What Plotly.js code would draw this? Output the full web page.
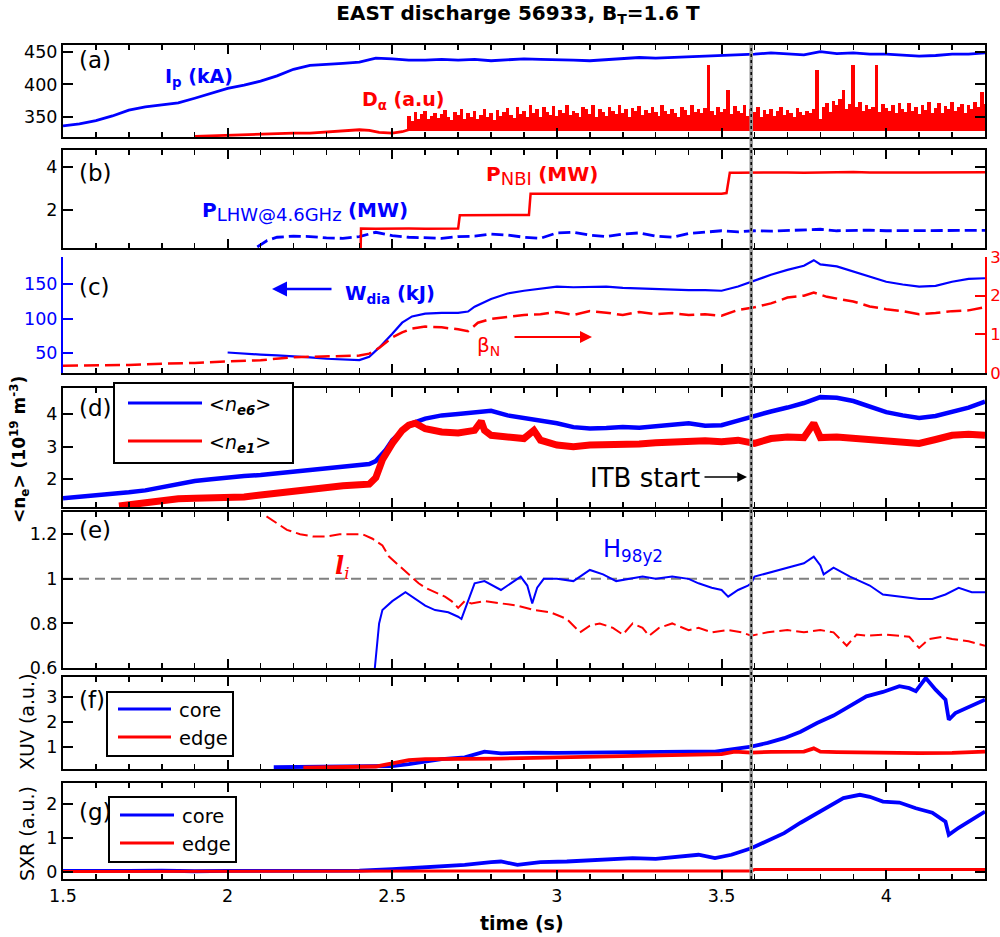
<!DOCTYPE html>
<html><head><meta charset="utf-8">
<script src="https://cdn.plot.ly/plotly-3.0.1.min.js"></script>
<style>html,body{margin:0;padding:0;background:#fff}#chart{width:1000px;height:937px}</style>
</head><body><div id="chart"></div>
<script>
// ---------------- DATA ----------------
// (a) plasma current Ip (kA)
const IP_T = [1.50,1.55,1.60,1.65,1.70,1.75,1.80,1.85,1.90,1.95,2.00,2.05,2.10,2.15,2.20,2.25,2.30,2.35,2.40,2.45,2.50,2.55,2.60,2.65,2.70,2.75,2.80,2.85,2.90,2.95,3.00,3.05,3.10,3.15,3.20,3.25,3.30,3.35,3.40,3.45,3.50,3.55,3.60,3.65,3.70,3.75,3.80,3.85,3.90,3.95,4.00,4.05,4.10,4.15,4.20,4.25,4.30];
const IP = [337,340,345,352,361,366,369,372,379,387,394,399,405,413,423,429,430,432,434,440,439,437,437,438,437,438,436,437,439,438,438,437,436,438,440,441,440,441,442,442,443,445,446,448,446,445,450,447,448,446,446,444,443,444,446,446,448];
// (a) D-alpha, quiet phase
const DA_LINE_T = [1.90,1.95,2.00,2.05,2.10,2.15,2.20,2.25,2.30,2.35,2.40,2.43,2.46,2.50,2.53,2.55];
const DA_LINE = [321,322,322,323,324,325,326,326,328,329,331,330,327,326,328,331];
// (a) D-alpha, ELM-like bursts: peaks every 0.01 s from 2.55 s
const DA_T0 = 2.55, DA_DT = 0.01, DA_BASE = 329;
const DA_TOP = [
 352,345,358,348,355,360,347,352,357,349,
 355,361,350,346,358,353,362,348,356,351,
 359,347,354,363,350,357,346,361,352,358,
 364,353,349,366,355,360,351,368,357,362,
 350,365,358,354,367,352,361,356,369,353,
 360,357,350,366,362,355,368,351,363,358,
 352,366,360,355,369,357,362,350,364,359,
 367,353,361,356,365,358,352,368,360,355,
 363,357,350,366,361,354,369,358,362,356,
 364,429,360,354,366,358,362,391,355,367,
 360,356,368,352,362,358,365,350,361,355,
 363,352,359,366,354,361,357,350,364,358,
 353,360,356,362,422,348,366,372,358,375,
 368,378,391,363,370,429,366,374,360,368,
 362,365,429,358,370,364,360,368,356,371,
 363,358,372,360,366,355,369,361,374,357,
 364,371,356,367,362,373,359,365,370,357,
 368,362,374,366,389,370];
// (b) NBI power (MW)
const NBI_T = [2.404,2.405,2.45,2.5,2.55,2.6,2.65,2.70,2.705,2.71,2.75,2.8,2.85,2.9,2.915,2.92,2.95,3.0,3.05,3.1,3.15,3.2,3.25,3.3,3.35,3.4,3.45,3.5,3.515,3.525,3.55,3.6,3.65,3.7,3.75,3.8,3.85,3.9,3.95,4.0,4.05,4.1,4.15,4.2,4.25,4.3];
const NBI = [0.2,1.15,1.14,1.16,1.15,1.14,1.16,1.15,1.77,1.77,1.78,1.76,1.78,1.77,1.78,2.77,2.77,2.78,2.76,2.78,2.79,2.77,2.78,2.76,2.78,2.79,2.78,2.77,2.8,3.74,3.74,3.75,3.74,3.76,3.74,3.75,3.76,3.78,3.75,3.77,3.76,3.76,3.77,3.78,3.77,3.77];
// (b) LHW power (MW)
const LHW_T = [2.09,2.12,2.15,2.2,2.25,2.3,2.35,2.4,2.45,2.5,2.55,2.6,2.65,2.7,2.75,2.8,2.85,2.9,2.95,3.0,3.05,3.1,3.15,3.2,3.25,3.3,3.35,3.4,3.45,3.5,3.55,3.6,3.65,3.7,3.75,3.8,3.85,3.9,3.95,4.0,4.1,4.2,4.3];
const LHW = [0.3,0.6,0.75,0.8,0.78,0.72,0.7,0.78,0.98,0.82,0.75,0.72,0.7,0.78,0.8,0.9,0.85,0.75,0.7,0.95,0.98,0.85,0.78,0.9,0.95,0.8,0.75,0.92,1.0,1.05,1.0,1.05,1.03,1.06,1.08,1.12,1.05,1.06,1.08,1.05,1.06,1.07,1.07];
// (c) stored energy W_dia (kJ)
const W_T = [2.0,2.05,2.1,2.15,2.2,2.25,2.3,2.35,2.4,2.43,2.46,2.5,2.53,2.56,2.6,2.65,2.7,2.73,2.75,2.8,2.85,2.9,2.95,3.0,3.05,3.1,3.15,3.2,3.25,3.3,3.35,3.4,3.45,3.5,3.55,3.6,3.65,3.7,3.75,3.78,3.8,3.85,3.9,3.95,4.0,4.05,4.1,4.15,4.2,4.25,4.3];
const W_DIA = [51,49,48,47,46,44,42,41,40,45,58,78,94,103,107,108,108,110,117,128,136,140,143,146,145,146,146,144,143,142,142,141,141,140,146,155,163,170,176,184,178,175,168,160,153,149,146,147,153,157,158];
// (c) normalised beta
const BN_T = [1.5,1.6,1.7,1.8,1.9,2.0,2.1,2.2,2.3,2.4,2.43,2.46,2.5,2.53,2.56,2.6,2.65,2.7,2.73,2.76,2.8,2.85,2.9,2.95,3.0,3.05,3.1,3.15,3.2,3.25,3.3,3.35,3.4,3.45,3.5,3.55,3.6,3.65,3.7,3.75,3.78,3.82,3.86,3.9,3.95,4.0,4.05,4.1,4.15,4.2,4.25,4.3];
const BETA_N = [0.19,0.2,0.21,0.24,0.26,0.3,0.33,0.41,0.43,0.45,0.5,0.65,0.92,1.05,1.15,1.2,1.18,1.13,1.08,1.3,1.4,1.45,1.5,1.52,1.58,1.5,1.6,1.56,1.5,1.58,1.52,1.55,1.5,1.52,1.48,1.63,1.7,1.8,1.95,2.0,2.08,1.97,1.9,1.85,1.72,1.65,1.6,1.52,1.55,1.6,1.62,1.7];
// (d) line-averaged densities (1e19 m^-3)
const NE6_T = [1.5,1.55,1.6,1.65,1.7,1.75,1.8,1.85,1.9,1.95,2.0,2.05,2.1,2.15,2.2,2.25,2.3,2.35,2.4,2.43,2.45,2.48,2.5,2.53,2.55,2.6,2.65,2.7,2.75,2.8,2.85,2.9,2.95,3.0,3.05,3.1,3.15,3.2,3.25,3.3,3.35,3.4,3.45,3.5,3.55,3.6,3.65,3.7,3.75,3.8,3.85,3.9,3.95,4.0,4.05,4.1,4.15,4.2,4.25,4.3];
const NE6 = [1.42,1.46,1.5,1.55,1.6,1.66,1.75,1.86,1.95,2.0,2.06,2.1,2.13,2.18,2.23,2.27,2.31,2.36,2.42,2.47,2.56,2.9,3.2,3.5,3.68,3.86,3.96,4.0,4.05,4.1,3.96,3.88,3.82,3.72,3.6,3.56,3.57,3.6,3.58,3.62,3.67,3.72,3.64,3.66,3.8,3.95,4.08,4.2,4.34,4.52,4.5,4.4,4.22,4.06,3.96,3.88,3.94,4.06,4.2,4.38];
const NE1_T = [1.67,1.7,1.75,1.8,1.85,1.9,1.95,2.0,2.05,2.1,2.15,2.2,2.25,2.3,2.35,2.4,2.43,2.45,2.47,2.5,2.53,2.55,2.57,2.6,2.65,2.7,2.75,2.77,2.78,2.8,2.85,2.9,2.93,2.95,3.0,3.05,3.1,3.15,3.2,3.25,3.3,3.35,3.4,3.45,3.5,3.55,3.6,3.65,3.7,3.75,3.78,3.8,3.85,3.9,3.95,4.0,4.05,4.1,4.15,4.2,4.25,4.3];
const NE1 = [1.18,1.22,1.3,1.36,1.4,1.42,1.43,1.43,1.46,1.52,1.58,1.65,1.7,1.76,1.8,1.83,1.85,2.05,2.6,3.1,3.5,3.66,3.72,3.55,3.45,3.42,3.5,3.78,3.5,3.35,3.3,3.25,3.5,3.2,3.05,3.0,3.05,3.05,3.1,3.08,3.12,3.15,3.2,3.18,3.15,3.2,3.1,3.25,3.3,3.28,3.72,3.28,3.3,3.25,3.25,3.2,3.15,3.1,3.22,3.35,3.38,3.35];
// (e) confinement factor and internal inductance
const H98_T = [2.447,2.46,2.47,2.5,2.54,2.57,2.6,2.63,2.67,2.7,2.71,2.73,2.75,2.78,2.83,2.87,2.89,2.91,2.925,2.94,2.96,3.0,3.05,3.1,3.14,3.18,3.22,3.26,3.3,3.35,3.4,3.43,3.47,3.5,3.52,3.55,3.58,3.59,3.6,3.65,3.7,3.75,3.78,3.8,3.81,3.84,3.89,3.95,3.99,4.05,4.1,4.14,4.18,4.22,4.26,4.3];
const H98 = [0.6,0.8,0.86,0.9,0.94,0.91,0.88,0.86,0.85,0.83,0.82,0.9,0.98,0.99,0.95,0.99,1.01,0.97,0.89,0.96,1.0,1.0,0.99,1.04,1.02,0.99,1.0,1.01,1.0,1.01,1.0,0.98,0.96,0.95,0.92,0.95,0.97,0.98,1.01,1.03,1.05,1.07,1.10,1.06,1.02,1.05,1.01,0.97,0.93,0.92,0.91,0.91,0.93,0.96,0.94,0.94];
const LI_T = [2.118,2.15,2.18,2.22,2.26,2.3,2.34,2.37,2.41,2.44,2.47,2.49,2.52,2.55,2.58,2.6,2.63,2.66,2.68,2.70,2.72,2.74,2.78,2.83,2.88,2.93,2.98,3.03,3.07,3.1,3.13,3.17,3.2,3.23,3.26,3.28,3.31,3.35,3.4,3.43,3.47,3.52,3.56,3.59,3.64,3.7,3.75,3.8,3.84,3.88,3.91,3.94,4.0,4.04,4.07,4.1,4.13,4.17,4.2,4.25,4.3];
const LI = [1.28,1.25,1.22,1.2,1.19,1.19,1.2,1.2,1.2,1.18,1.15,1.1,1.06,1.02,0.98,0.96,0.94,0.92,0.9,0.87,0.9,0.89,0.9,0.89,0.88,0.86,0.85,0.82,0.76,0.79,0.8,0.78,0.75,0.8,0.78,0.745,0.78,0.8,0.77,0.78,0.76,0.77,0.76,0.745,0.76,0.77,0.76,0.77,0.76,0.7,0.75,0.745,0.75,0.745,0.74,0.69,0.73,0.74,0.73,0.72,0.70];
const H_REF = 1;
// (f) XUV (a.u.)
const XUV_CORE_T = [2.14,2.2,2.3,2.4,2.5,2.55,2.6,2.65,2.72,2.78,2.83,2.88,2.93,3.0,3.1,3.2,3.3,3.4,3.48,3.54,3.59,3.64,3.69,3.74,3.79,3.84,3.89,3.94,3.99,4.04,4.07,4.09,4.12,4.15,4.18,4.19,4.21,4.25,4.3];
const XUV_CORE = [0.17,0.18,0.17,0.18,0.22,0.3,0.4,0.5,0.57,0.8,0.73,0.75,0.76,0.75,0.77,0.78,0.8,0.8,0.8,0.93,1.0,1.15,1.34,1.6,1.95,2.25,2.62,3.02,3.2,3.43,3.35,3.23,3.76,3.29,2.89,2.08,2.35,2.6,2.89];
const XUV_EDGE_T = [2.23,2.3,2.4,2.45,2.5,2.55,2.6,2.65,2.75,2.83,2.93,3.03,3.13,3.23,3.33,3.43,3.5,3.54,3.59,3.65,3.7,3.75,3.78,3.8,3.85,3.94,4.0,4.1,4.2,4.3];
const XUV_EDGE = [0.15,0.17,0.18,0.2,0.33,0.46,0.5,0.5,0.5,0.52,0.55,0.57,0.6,0.63,0.65,0.67,0.7,0.8,0.76,0.79,0.8,0.8,0.93,0.8,0.78,0.76,0.77,0.74,0.75,0.8];
// (g) SXR (a.u.)
const SXR_CORE_T = [1.5,1.6,1.7,1.8,1.9,2.0,2.1,2.2,2.3,2.4,2.5,2.6,2.72,2.8,2.83,2.88,2.95,3.03,3.1,3.23,3.3,3.43,3.48,3.53,3.59,3.64,3.69,3.74,3.79,3.83,3.87,3.92,3.95,3.99,4.04,4.09,4.14,4.18,4.19,4.22,4.26,4.3];
const SXR_CORE = [0.02,0.01,0.02,0.03,0.01,0.02,0.02,0.03,0.02,0.03,0.07,0.13,0.2,0.28,0.3,0.2,0.28,0.3,0.33,0.4,0.38,0.5,0.4,0.5,0.69,0.9,1.14,1.45,1.73,1.95,2.18,2.28,2.22,2.08,2.05,1.88,1.75,1.48,1.09,1.3,1.55,1.78];
const SXR_EDGE_T = [1.5,1.8,2.1,2.4,2.7,3.0,3.3,3.59,3.6,3.9,4.2,4.3];
const SXR_EDGE = [0.0,0.01,0.0,0.01,0.02,0.02,0.03,0.02,0.06,0.06,0.05,0.06];
// ITB onset time (s)
const ITB_TIME = 3.59;

// ---------------- LAYOUT HELPERS ----------------
const L = 63, R = 985, TOP = 45, BOT = 879;
const X = px => (px - L) / (R - L);
const Y = py => (BOT - py) / (BOT - TOP);
const dom = (top, bot) => [Y(bot), Y(top)];
const FONT = 'DejaVu Sans, Arial, sans-serif';
const BLUE = '#0000ff', RED = '#ff0000';
const TF = 17.5;

function xax(anchor, opts) {
  return Object.assign({
    anchor: anchor, range: [1.5, 4.3], tickmode: 'linear', tick0: 1.5, dtick: 0.5,
    ticks: 'inside', ticklen: 9, tickwidth: 2, tickcolor: '#000',
    minor: {tickmode: 'linear', tick0: 1.5, dtick: 0.1, ticks: 'inside', ticklen: 5, tickwidth: 1.5, tickcolor: '#000', showgrid: false},
    showline: true, linewidth: 2, linecolor: '#000', mirror: 'allticks',
    showgrid: false, zeroline: false, showticklabels: false,
    tickfont: {family: FONT, size: TF, color: '#000'}
  }, opts || {});
}
function yax(anchor, domain, range, tickvals, opts) {
  return Object.assign({
    anchor: anchor, domain: domain, range: range, tickmode: 'array', tickvals: tickvals,
    ticks: 'inside', ticklen: 10, tickwidth: 2, tickcolor: '#000',
    showline: true, linewidth: 2, linecolor: '#000', mirror: 'allticks',
    showgrid: false, zeroline: false,
    tickfont: {family: FONT, size: TF, color: '#000'}
  }, opts || {});
}

// ---------------- TRACES ----------------
const daT = DA_TOP.map((_, i) => +(DA_T0 + i * DA_DT).toFixed(3));
const line = (x, y, xa, ya, color, width, dash) => ({
  type: 'scatter', mode: 'lines', x: x, y: y, xaxis: xa, yaxis: ya,
  line: {color: color, width: width, dash: dash || 'solid'}, showlegend: false, hoverinfo: 'skip'
});
const traces = [
  line(IP_T, IP, 'x', 'y', BLUE, 2.8),
  line(DA_LINE_T, DA_LINE, 'x', 'y', RED, 2.8),
  {type: 'bar', x: daT, y: DA_TOP.map(v => v - DA_BASE), base: DA_BASE, width: DA_DT * 1.1,
   xaxis: 'x', yaxis: 'y', marker: {color: RED, line: {width: 0}}, showlegend: false, hoverinfo: 'skip'},
  line(LHW_T, LHW, 'x2', 'y2', BLUE, 2.8, '12px,5px'),
  line(NBI_T, NBI, 'x2', 'y2', RED, 2.5),
  line(W_T, W_DIA, 'x3', 'y3', BLUE, 2.2),
  line(BN_T, BETA_N, 'x3', 'y8', RED, 2.5, '15px,6px'),
  line(NE6_T, NE6, 'x4', 'y4', BLUE, 4.5),
  line(NE1_T, NE1, 'x4', 'y4', RED, 7),
  line(LI_T, LI, 'x5', 'y5', RED, 2, '12px,5px'),
  line(H98_T, H98, 'x5', 'y5', BLUE, 2),
  line(XUV_CORE_T, XUV_CORE, 'x6', 'y6', BLUE, 3.8),
  line(XUV_EDGE_T, XUV_EDGE, 'x6', 'y6', RED, 3.8),
  line(SXR_CORE_T, SXR_CORE, 'x7', 'y7', BLUE, 3.8),
  line(SXR_EDGE_T, SXR_EDGE, 'x7', 'y7', RED, 3)
];

// ---------------- ANNOTATIONS ----------------
const ann = [];
function txt(text, px, py, opts) {
  ann.push(Object.assign({text: text, xref: 'paper', yref: 'paper', x: X(px), y: Y(py),
    xanchor: 'left', yanchor: 'middle', showarrow: false,
    font: {family: FONT, size: 19, color: '#000'}}, opts || {}));
}
function arrow(hx, hy, tx, ty, color, width, size) {
  ann.push({text: '', xref: 'paper', yref: 'paper', x: X(hx), y: Y(hy), ax: tx - hx, ay: ty - hy,
    showarrow: true, arrowhead: 2, arrowsize: size, arrowwidth: width, arrowcolor: color});
}
[['(a)', 60], ['(b)', 173], ['(c)', 287], ['(d)', 408], ['(e)', 530], ['(f)', 700], ['(g)', 812]]
  .forEach(p => txt(p[0], 77, p[1], {font: {family: FONT, size: 23, color: '#000'}}));

txt('<b>I<sub>p</sub> (kA)</b>', 163, 78, {font: {family: FONT, size: 19, color: BLUE}});
txt('<b>D<sub>α</sub> (a.u)</b>', 360, 100, {font: {family: FONT, size: 19, color: RED}});
txt('<b>P</b><sub><span style="font-size:18px">LHW@4.6GHz</span></sub> <b>(MW)</b>', 200, 212, {font: {family: FONT, size: 20, color: BLUE}});
txt('<b>P</b><sub><span style="font-size:18px">NBI</span></sub> <b>(MW)</b>', 484, 175, {font: {family: FONT, size: 20, color: RED}});
txt('<b>W<sub>dia</sub> (kJ)</b>', 343, 294, {font: {family: FONT, size: 19.5, color: BLUE}});
arrow(272, 289, 333, 289, BLUE, 2.5, 1.2);
txt('β<sub>N</sub>', 475, 346, {font: {family: FONT, size: 20, color: RED}});
arrow(592, 337, 513, 337, RED, 2, 1.2);
txt('ITB start', 702, 478, {xanchor: 'right', font: {family: FONT, size: 26, color: '#000'}});
arrow(747, 477, 703, 477, '#000', 1.5, 1.3);
txt('<b><i>l</i></b><sub><i>i</i></sub>', 333, 567, {font: {family: 'DejaVu Serif, serif', size: 24, color: RED}});
txt('H<sub>98y2</sub>', 601, 550, {font: {family: FONT, size: 24, color: BLUE}});

// y titles
txt('<b>&lt;n<sub>e</sub>&gt; (10<sup>19</sup> m<sup>-3</sup>)</b>', 19, 450, {xanchor: 'center', textangle: -90, font: {family: FONT, size: 17, color: '#000'}});
txt('XUV (a.u.)', 27, 722, {xanchor: 'center', textangle: -90, font: {family: FONT, size: 19, color: '#000'}});
txt('SXR (a.u.)', 27, 834, {xanchor: 'center', textangle: -90, font: {family: FONT, size: 19, color: '#000'}});
txt('<b>time (s)</b>', 522, 923, {xanchor: 'center', font: {family: FONT, size: 19, color: '#000'}});

// legends
txt('&lt;<i>n<sub><b>e6</b></sub></i>&gt;', 207, 405, {font: {family: FONT, size: 19, color: '#000'}});
txt('&lt;<i>n<sub><b>e1</b></sub></i>&gt;', 207, 443, {font: {family: FONT, size: 19, color: '#000'}});
txt('core', 177, 710, {font: {family: FONT, size: 19.5, color: '#000'}});
txt('edge', 177, 738, {font: {family: FONT, size: 19.5, color: '#000'}});
txt('core', 180, 816, {font: {family: FONT, size: 19.5, color: '#000'}});
txt('edge', 180, 844, {font: {family: FONT, size: 19.5, color: '#000'}});

const shapes = [
  {type: 'line', xref: 'x', yref: 'paper', x0: ITB_TIME, x1: ITB_TIME, y0: 0, y1: 1, layer: 'above', line: {color: '#9a9a9a', width: 3.5}},
  {type: 'line', xref: 'x', yref: 'paper', x0: ITB_TIME, x1: ITB_TIME, y0: 0, y1: 1, layer: 'above', line: {color: '#000', width: 1.5, dash: 'dot'}},
  {type: 'line', xref: 'x5', yref: 'y5', x0: 1.5, x1: 4.3, y0: H_REF, y1: H_REF, layer: 'below', line: {color: '#808080', width: 2, dash: '10px,6px'}}
];
function legendBox(x0, y0, x1, y1, items) {
  shapes.push({type: 'rect', xref: 'paper', yref: 'paper', x0: X(x0), x1: X(x1), y0: Y(y1), y1: Y(y0), layer: 'above', fillcolor: '#fff', line: {color: '#000', width: 2}});
  items.forEach(it => shapes.push({type: 'line', xref: 'paper', yref: 'paper', x0: X(it[0]), x1: X(it[1]), y0: Y(it[2]), y1: Y(it[2]), layer: 'above', line: {color: it[3], width: 3}}));
}
legendBox(114, 383, 293, 463, [[128, 202, 403, BLUE], [128, 202, 441, RED]]);
legendBox(107, 692, 233, 756, [[118, 171, 709, BLUE], [118, 171, 737, RED]]);
legendBox(109, 797, 236, 862, [[120, 174, 815, BLUE], [120, 174, 843, RED]]);

const layout = {
  width: 1000, height: 937, paper_bgcolor: '#fff', plot_bgcolor: 'rgba(0,0,0,0)',
  margin: {l: L, r: 1000 - R, t: TOP, b: 937 - BOT, pad: 0},
  showlegend: false, bargap: 0,
  font: {family: FONT, size: TF, color: '#000'},
  title: {text: '<b>EAST discharge 56933, B<sub>T</sub>=1.6 T</b>', xref: 'container', yref: 'container',
    x: 0.518, xanchor: 'center', y: 1 - 13 / 937, yanchor: 'middle', font: {family: FONT, size: 20, color: '#000'}},
  xaxis: xax('y'), xaxis2: xax('y2'), xaxis3: xax('y3', {mirror: false}), xaxis4: xax('y4'),
  xaxis5: xax('y5'), xaxis6: xax('y6'),
  xaxis7: xax('y7', {showticklabels: true}),
  yaxis: yax('x', dom(45, 137), [320, 460], [350, 400, 450]),
  yaxis2: yax('x2', dom(150, 248), [0.25, 4.8], [2, 4]),
  yaxis3: yax('x3', dom(257, 373), [21.5, 188.6], [50, 100, 150],
    {mirror: false, linecolor: BLUE, tickcolor: BLUE, tickfont: {family: FONT, size: TF, color: BLUE}}),
  yaxis8: yax('x3', null, [0, 3], [0, 1, 2, 3],
    {overlaying: 'y3', side: 'right', mirror: false, linecolor: RED, tickcolor: RED, tickfont: {family: FONT, size: 16.5, color: RED}}),
  yaxis4: yax('x4', dom(388, 507), [1.15, 4.8], [2, 3, 4]),
  yaxis5: yax('x5', dom(512, 668), [0.6, 1.3], [0.6, 0.8, 1, 1.2]),
  yaxis6: yax('x6', dom(677, 769), [0.1, 3.8], [1, 2, 3]),
  yaxis7: yax('x7', dom(783, 879), [-0.22, 2.63], [0, 1, 2]),
  annotations: ann, shapes: shapes
};
delete layout.yaxis8.domain;
Plotly.newPlot('chart', traces, layout, {staticPlot: true, displayModeBar: false});
</script></body></html>
